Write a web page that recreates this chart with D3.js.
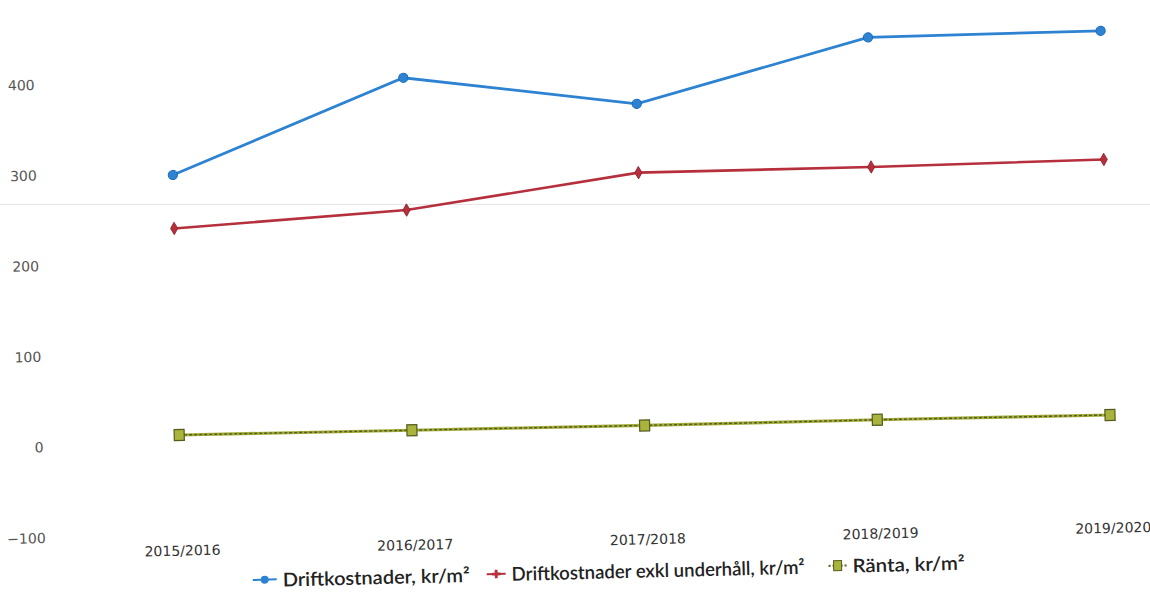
<!DOCTYPE html>
<html>
<head>
<meta charset="utf-8">
<script src="https://cdn.jsdelivr.net/npm/d3@7"></script>
<style>
  html, body { margin: 0; padding: 0; background: #fff; }
  svg { display: block; }
</style>
</head>
<body>
<svg id="chart" width="1150" height="598"></svg>
<script>
// ---- data ----
const categories = ["2015/2016", "2016/2017", "2017/2018", "2018/2019", "2019/2020"];
const driftkostnader = [297, 398, 363, 430, 431];
const driftExklUnderhall = [238, 252, 287, 287, 289];
const ranta = [10, 9, 8, 8, 7];
const yTicks = [-100, 0, 100, 200, 300, 400, 500];
const seriesNames = ["Driftkostnader, kr/m²", "Driftkostnader exkl underhåll, kr/m²", "Ränta, kr/m²"];

const W = 1150, H = 598;
const svg = d3.select("#chart");

// faint scanner streak across the page
svg.append("line").attr("x1", 0).attr("x2", W).attr("y1", 204.5).attr("y2", 204.5)
  .attr("stroke", "#e6e6e6").attr("stroke-width", 1);

// the scanned chart is slightly rotated
const g = svg.append("g").attr("transform", "rotate(-1.4, 575, 299)");

const x = d3.scalePoint().domain(categories).range([176, 1107]);
const y = d3.scaleLinear().domain([-100, 500]).range([525, -18.8]);

// y axis
const yAxis = g.append("g").attr("transform", "translate(44,0)")
  .call(d3.axisLeft(y).tickValues(yTicks).tickSize(0).tickPadding(4));
yAxis.select(".domain").remove();
yAxis.selectAll("text").attr("font-family", "DejaVu Sans").attr("font-size", 14).attr("fill", "#555");

// x axis
const xAxis = g.append("g").attr("transform", "translate(0,525)")
  .call(d3.axisBottom(x).tickSize(0).tickPadding(11));
xAxis.select(".domain").remove();
xAxis.selectAll("text").attr("font-family", "DejaVu Sans").attr("font-size", 14).attr("fill", "#333");

const line = d3.line().x((d, i) => x(categories[i])).y(d => y(d));

const blue = "#2d82d2", red = "#b5303c", green = "#a4ae3a", greenDark = "#555a1e";

// Blue series
g.append("path").datum(driftkostnader).attr("d", line)
  .attr("fill", "none").attr("stroke", blue).attr("stroke-width", 2.8);
g.selectAll(".pb").data(driftkostnader).enter().append("circle")
  .attr("cx", (d, i) => x(categories[i])).attr("cy", d => y(d)).attr("r", 4.6)
  .attr("fill", blue).attr("stroke", "#1d6ab8").attr("stroke-width", 1);

// Red series
g.append("path").datum(driftExklUnderhall).attr("d", line)
  .attr("fill", "none").attr("stroke", red).attr("stroke-width", 2.6);
g.selectAll(".pr").data(driftExklUnderhall).enter().append("path")
  .attr("transform", (d, i) => `translate(${x(categories[i])},${y(d)})`)
  .attr("d", d3.symbol(d3.symbolDiamond, 45)).attr("fill", red).attr("stroke", "#8a1e2a").attr("stroke-width", 0.8);

// Green series
g.append("path").datum(ranta).attr("d", line)
  .attr("fill", "none").attr("stroke", green).attr("stroke-width", 3.2);
g.append("path").datum(ranta).attr("d", line)
  .attr("fill", "none").attr("stroke", greenDark).attr("stroke-width", 1.4).attr("stroke-dasharray", "3,2");
g.selectAll(".pg").data(ranta).enter().append("rect")
  .attr("x", (d, i) => x(categories[i]) - 5).attr("y", d => y(d) - 5.5)
  .attr("width", 10).attr("height", 11)
  .attr("fill", "#a9b43c").attr("stroke", greenDark).attr("stroke-width", 1.2);

// Legend
const legendItems = [
  { name: seriesNames[0], color: blue, kind: "circle", sx: 246, tx: 276, len: 187 },
  { name: seriesNames[1], color: red, kind: "diamond", sx: 480, tx: 505, len: 293 },
  { name: seriesNames[2], color: green, kind: "square", sx: 822, tx: 846, len: 112 }
];
const ly = 572;
const leg = g.append("g");
legendItems.forEach(it => {
  const w = it.tx - it.sx - 6;
  leg.append("line").attr("x1", it.sx).attr("x2", it.sx + w).attr("y1", ly).attr("y2", ly)
    .attr("stroke", it.kind === "square" ? greenDark : it.color).attr("stroke-width", 2)
    .attr("stroke-dasharray", it.kind === "square" ? "2,2" : null);
  const cx = it.sx + w / 2;
  if (it.kind === "circle") {
    leg.append("circle").attr("cx", cx).attr("cy", ly).attr("r", 4).attr("fill", it.color);
  } else if (it.kind === "diamond") {
    leg.append("path").attr("transform", `translate(${cx},${ly})`)
      .attr("d", d3.symbol(d3.symbolCross, 40)).attr("fill", it.color);
  } else {
    leg.append("rect").attr("x", cx - 4).attr("y", ly - 5).attr("width", 8).attr("height", 10)
      .attr("fill", "#a9b43c").attr("stroke", greenDark).attr("stroke-width", 1);
  }
  leg.append("text").attr("x", it.tx).attr("y", ly).attr("dy", "0.38em")
    .attr("font-family", "Lato").attr("font-weight", 600).attr("font-size", 19)
    .attr("textLength", it.len).attr("lengthAdjust", "spacingAndGlyphs")
    .attr("fill", "#222").text(it.name);
});
</script>
</body>
</html>
